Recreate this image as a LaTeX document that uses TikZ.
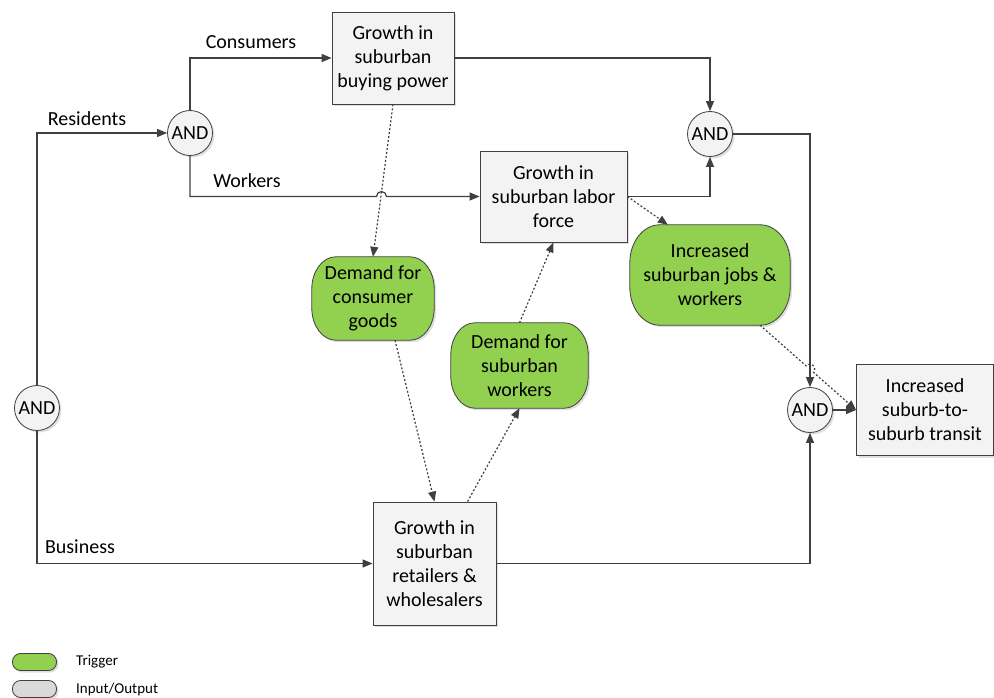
\documentclass[tikz,border=0pt]{standalone}
\usepackage{fontspec}
\setmainfont{Carlito}
\usetikzlibrary{arrows.meta,shadows,calc,backgrounds}
\definecolor{ln}{RGB}{64,64,64}
\definecolor{boxfill}{RGB}{243,243,243}
\definecolor{grn}{RGB}{146,208,80}
\definecolor{gry}{RGB}{217,217,217}
\tikzset{
  shad/.style={drop shadow={opacity=0.25,shadow xshift=2pt,shadow yshift=-2pt}},
  procbox/.style={draw=ln,fill=boxfill,line width=0.8pt,align=center,inner sep=0pt,shad,font=\fontsize{20}{24}\selectfont},
  andnode/.style={circle,draw=ln,fill=boxfill,line width=0.8pt,minimum size=45pt,inner sep=0pt,shad,font=\fontsize{20}{24}\selectfont},
  trig/.style={align=center,inner sep=0pt,font=\fontsize{20}{24}\selectfont},
  trigshape/.style={draw=ln,fill=grn,line width=0.8pt,shad},
  arr/.style={draw=ln,line width=1.2pt,-{Triangle[length=10pt,width=8pt]}},
  darr/.style={draw=ln,line width=1.2pt,dash pattern=on 2pt off 2pt,-{Triangle[length=10pt,width=8pt]}},
  lbl/.style={font=\fontsize{20}{24}\selectfont,inner sep=0pt},
  legtxt/.style={font=\fontsize{15}{18}\selectfont,anchor=west,inner sep=0pt},
}
\newcommand\roundshape[3]{%
  \draw[trigshape] ($(#1.north west)+(#2,0)$) -- ($(#1.north east)+(-#2,0)$)
    arc[start angle=90,end angle=0,x radius=#2pt,y radius=#3pt]
    -- ($(#1.south east)+(0,-#3)$)
    arc[start angle=0,end angle=-90,x radius=#2pt,y radius=#3pt]
    -- ($(#1.south west)+(#2,0)$)
    arc[start angle=270,end angle=180,x radius=#2pt,y radius=#3pt]
    -- ($(#1.north west)+(0,#3)$)
    arc[start angle=180,end angle=90,x radius=#2pt,y radius=#3pt] -- cycle;}
\begin{document}
\begin{tikzpicture}[x=1pt,y=-1pt]
\useasboundingbox (0,0) rectangle (994,698);
% process boxes
\node[procbox,minimum width=122pt,minimum height=92pt] (buy) at (393,58) {Growth in\\suburban\\buying power};
\node[procbox,minimum width=147pt,minimum height=91pt] (labor) at (553.5,196.5) {Growth in\\suburban labor\\force};
\node[procbox,minimum width=123pt,minimum height=123pt] (retail) at (434.5,563.5) {Growth in\\suburban\\retailers \&\\wholesalers};
\node[procbox,minimum width=137pt,minimum height=91pt] (transit) at (925,410) {Increased\\suburb-to-\\suburb transit};
% AND gates
\node[andnode] (and1) at (190,133) {AND};
\node[andnode] (and2) at (710,134) {AND};
\node[andnode] (and3) at (37,408) {AND};
\node[andnode] (and4) at (810,410) {AND};
% triggers
\node[trig,minimum width=122pt,minimum height=83pt] (cons) at (373,298.5) {Demand for\\consumer\\goods};
\node[trig,minimum width=137pt,minimum height=85pt] (work) at (519.5,365.5) {Demand for\\suburban\\workers};
\node[trig,minimum width=160pt,minimum height=100pt] (jobs) at (710,275) {Increased\\suburban jobs \&\\workers};
\begin{pgfonlayer}{background}
\roundshape{cons}{24}{32}
\roundshape{work}{24}{32}
\roundshape{jobs}{30}{38}
\end{pgfonlayer}
% labels
\node[lbl] (lcons) at (251,42) {Consumers};
\node[lbl] (lres) at (87,119) {Residents};
\node[lbl] (lwork) at (247,181) {Workers};
\node[lbl] (lbus) at (80,547) {Business};
% solid connectors
\draw[arr] (and3) |- (and1);
\draw[arr] (and3) |- (retail);
\draw[arr] (and1) |- (buy);
\coordinate (hop) at (381.5,196.5);
\draw[arr] (and1.south) |- ($(hop)+(-5,0)$) arc[start angle=180,end angle=0,radius=5pt] -- (labor.west);
\draw[arr] (buy) -| (and2);
\draw[arr] (labor) -| (and2);
\draw[arr] (and2) -| (and4);
\draw[arr] (retail) -| (and4);
\draw[arr] (and4) -- (transit);
% dotted connectors
\draw[darr] (buy.south) -- (cons.north);
\draw[darr] ($(cons.south)+(22,0)$) -- (retail.north);
\draw[darr] ($(retail.north)+(33,0)$) -- (work.south);
\draw[darr] (work.north) -- (labor.south);
\draw[darr] (labor.east) -- (jobs.130);
\coordinate (jsrc) at ($(jobs.south)+(50,0)$);
\draw[darr] (jsrc) -- ($(jsrc)!0.479!(transit.west)$) arc[start angle=138.6,end angle=-41.4,radius=5pt] -- (transit.west);
% legend
\node[draw=ln,fill=grn,line width=0.8pt,rounded corners=8pt,minimum width=44pt,minimum height=17pt,inner sep=0pt,shad] (legG) at (34.5,662) {};
\node[draw=ln,fill=gry,line width=0.8pt,rounded corners=8pt,minimum width=44pt,minimum height=17pt,inner sep=0pt,shad] (legI) at (34.5,689) {};
\node[legtxt] (legGt) at (76,662) {Trigger};
\node[legtxt] (legIt) at (76,689) {Input/Output};
\end{tikzpicture}
\end{document}
